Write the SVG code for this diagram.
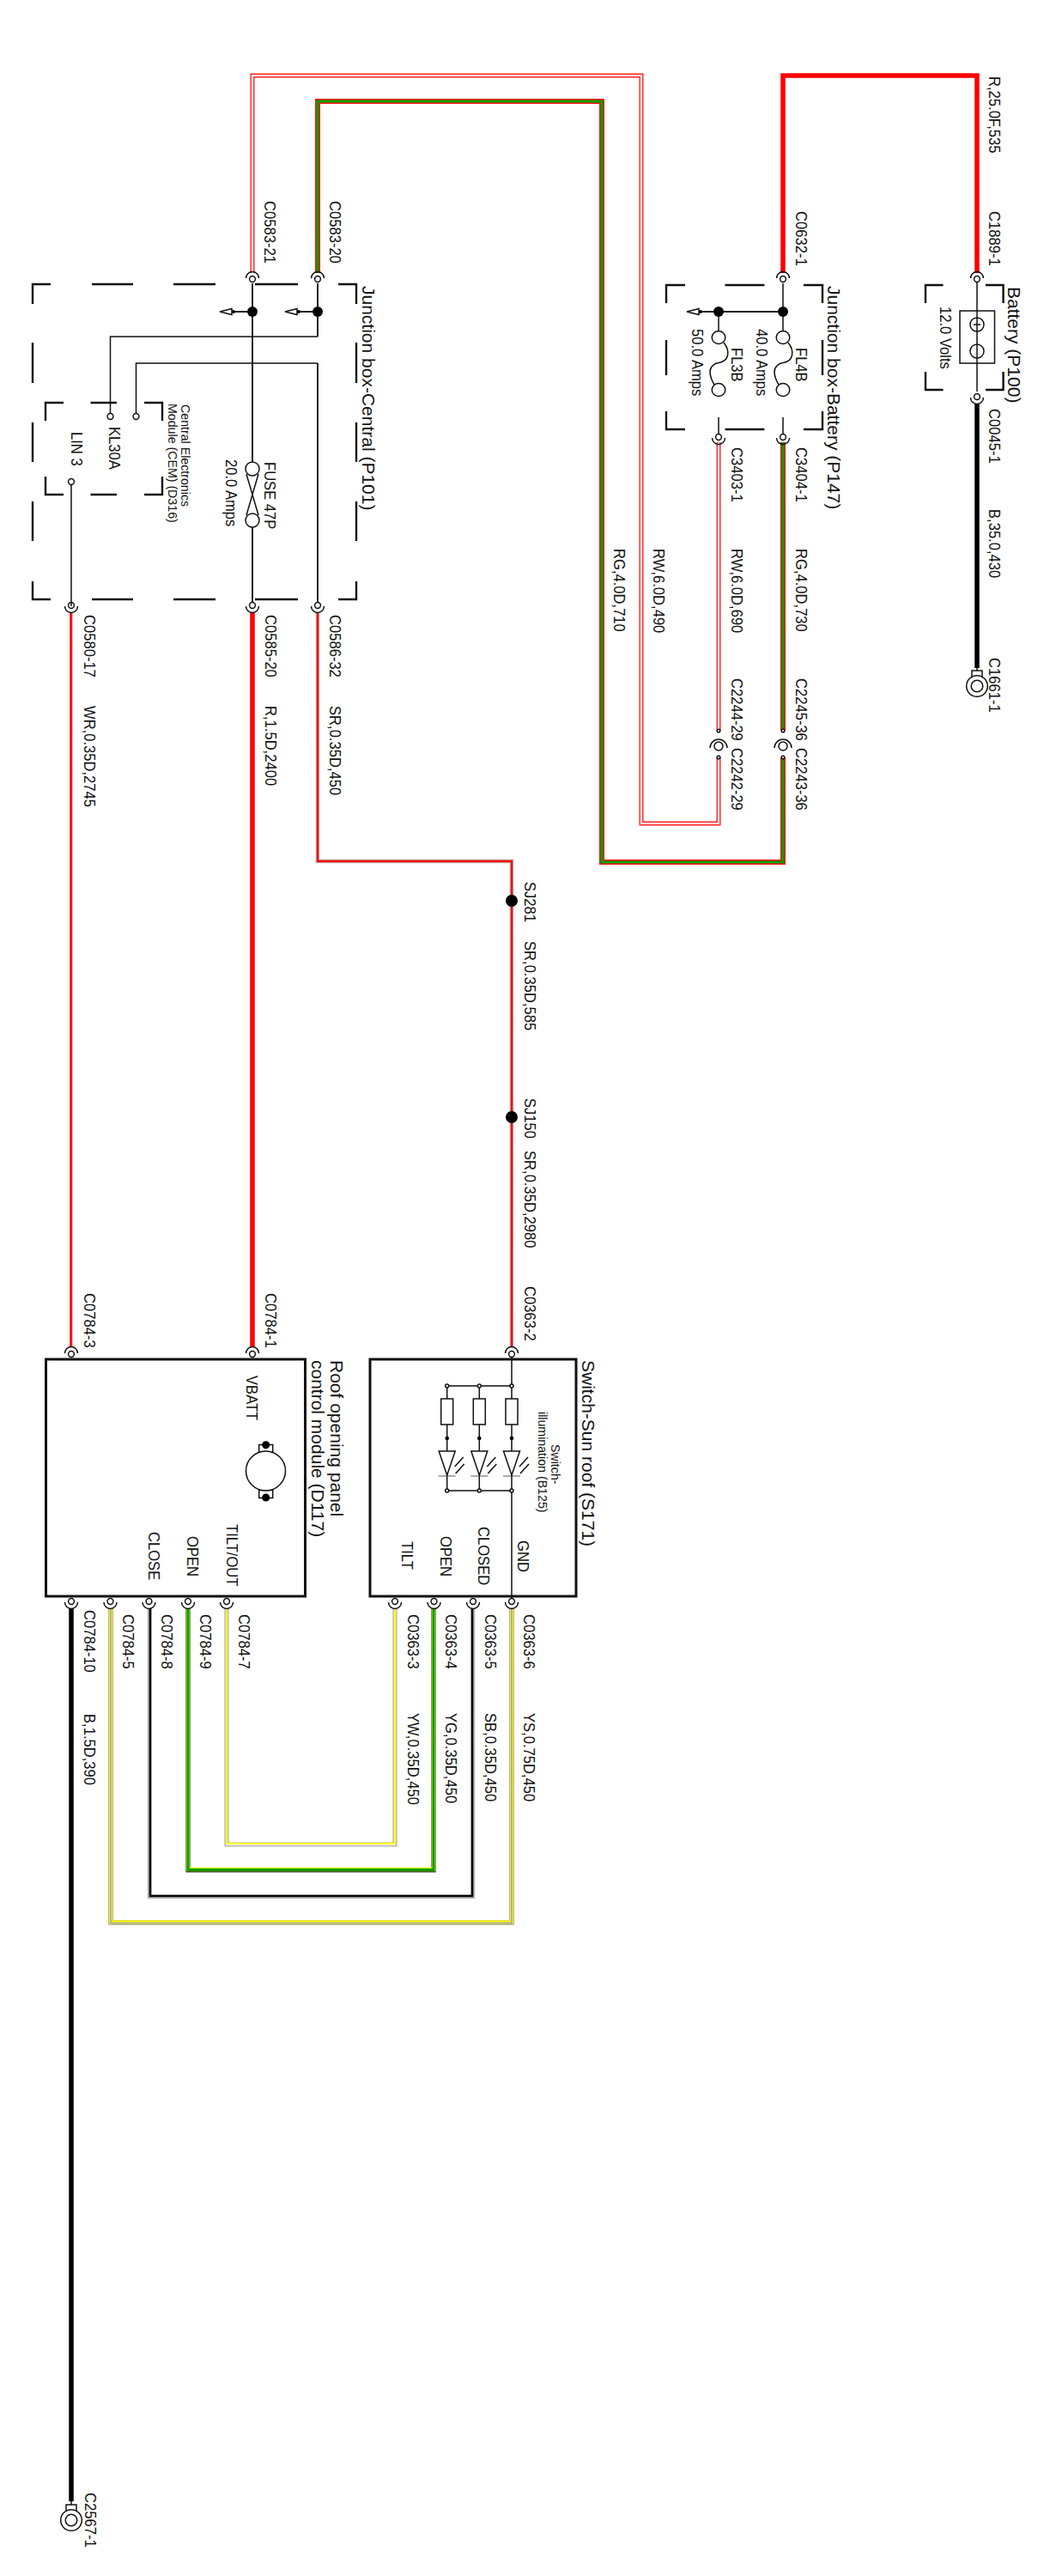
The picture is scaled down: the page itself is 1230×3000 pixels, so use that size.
<svg xmlns="http://www.w3.org/2000/svg" width="1230" height="3000" viewBox="0 0 1230 3000">
<style>
text{font-family:"Liberation Sans",Arial,sans-serif;font-size:16.6px;fill:#111}
.t{font-size:21px}
.s{font-size:14.2px}
.k{fill:none;stroke:#111;stroke-width:1.5}
.k2w{fill:none;stroke:#222;stroke-width:2}
.d{fill:none;stroke:#111;stroke-width:2.4}
.b{fill:none;stroke:#111;stroke-width:3}
.o{fill:#fff;stroke:#111;stroke-width:1.5}
.f{fill:#000;stroke:none}
.w{fill:none;stroke-linejoin:miter}
.r5{stroke:#f00;stroke-width:5.5}
.k5{stroke:#000;stroke-width:5.5}
.r4{stroke:#f22;stroke-width:5}
.r6{stroke:#f11;stroke-width:6}
.wh{stroke:#fff;stroke-width:2.2}
.g3{stroke:#00a000;stroke-width:3.2}
.gr4{stroke:#b5b5b5;stroke-width:4.5}
.r2{stroke:#f00;stroke-width:2.4}
.y4{stroke:#ff0;stroke-width:4.4}
.ol{stroke:#665;stroke-width:5.2}
.gr2{stroke:#b0b0a0;stroke-width:2.2}
.k2{stroke:#000;stroke-width:2.6}
.dg{stroke:#222;stroke-width:5.2}
.gp{stroke:#666;stroke-width:4.6}
.wy{stroke:#ff0;stroke-width:2.2}
.pk{stroke:#ff9a9a;stroke-width:3.6}
</style>
<defs>
<g id="ct"><path class="k" d="M-7.5 0A7.5 7.500 0 0 1 7.5 0"/><circle class="o" cx="0" cy="1" r="3.4"/></g>
<g id="cb"><path class="k" d="M-7.5 0A7.500 7.500 0 0 0 7.5 0"/><circle class="o" cx="0" cy="-1" r="3.4"/></g>
<g id="cm"><path class="k" d="M-10 2A10 10 0 0 1 10 2"/><circle class="o" cx="0" cy="0" r="5"/><circle class="o" cx="0" cy="-18" r="1.8"/><circle class="o" cx="0" cy="13" r="1.8"/></g>
<g id="gnd"><rect class="o" x="-6" y="-18" width="12" height="7"/><circle class="o" cx="0" cy="0" r="12.3"/><circle class="o" cx="0" cy="0" r="6.8"/></g>
<g id="arrow"><path class="o" d="M0 0L14 -3.600V3.600Z"/><circle class="f" cx="16" cy="0" r="2"/></g>
<g id="fusel"><ellipse class="o" cx="0" cy="-30" rx="7.800" ry="7.500"/><ellipse class="o" cx="0" cy="31" rx="7.800" ry="7.500"/><path class="k" d="M6 -24C10 -19 11.500 -13 10.500 -9C9 -3 4 -1 0 -0.500C-5 0 -10 4 -10 10C-10 15 -8 20 -5 25"/></g>
<g id="led"><rect class="o" x="-7" y="-107" width="14" height="30"/><circle class="f" cx="0" cy="-61" r="2.300"/><path class="o" d="M-9.500 -46H9.500L0 -18Z"/><path d="M-10 -17H10" fill="none" stroke="#333" stroke-width="0.800"/><path class="k" d="M9 -28L19 -39M10 -20L20 -31"/><circle class="o" cx="0" cy="-122" r="2"/><circle class="o" cx="0" cy="0" r="2"/></g>
</defs>

<g id="connectors">
<path class="w r4" d="M294 318V88H747V959H837V882"/><path class="w wh" d="M294 318V88H747V959H837V882"/>
<path class="w r4" d="M837 515V851"/><path class="w wh" d="M837 515V851"/>
<path class="w r6" d="M370 318V118H701V1004H912V882"/><path class="w g3" d="M370 318V118H701V1004H912V882"/>
<path class="w r6" d="M912 515V851"/><path class="w g3" d="M912 515V851"/>
<path class="w r5" d="M912 318V88H1138V318"/>
<path class="w k5" d="M1138 470V778"/>
<path class="w pk" d="M83 713V1568"/><path class="w r2" d="M82.600 713V1568"/>
<path class="w r5" d="M294 713V1568"/>
<path class="w gr4" d="M370 713V1003H596V1568"/><path class="w r2" d="M370 713V1003H596V1568"/>
<path class="w k5" d="M83 1873V2913"/>
<path class="w ol" d="M129 1873V2239H596V1873"/><path class="w y4" d="M129 1873V2238.600H596V1873"/><path class="w gr2" d="M129 1873V2239.500H596V1873"/>
<path class="w gr4" d="M174 1873V2209H551V1873"/><path class="w k2" d="M175 1873V2208H550V1873"/>
<path class="w dg" d="M219 1873V2178H505V1873"/><path class="w y4" d="M219 1873V2177H505V1873"/><path class="w g3" d="M219 1873V2177.500H505V1873"/>
<path class="w gp" d="M264 1873V2148H460V1873"/><path class="w" stroke="#fff" stroke-width="3.2" d="M264 1873V2148H460V1873"/><path class="w wy" d="M264 1873V2147H460V1873"/>
</g>

<g id="box-central">
<path class="d" d="M59 331H38V354M107 331H155M202 331H251M297 331H347M394 331H415V354M38 399V446M38 492V538M38 584V630M38 677V698H59M415 399V446M415 492V538M415 584V630M415 677V698H394M107 698H155M202 698H251M297 698H347"/>
<path class="k2w" d="M294 330V538M294 614V706M370 330V392M370 706V423"/>
<path class="k" d="M370 392H128.500V481M370 423H158.500V481"/>
<path class="k2w" d="M272 363H294M350 363H370"/>
<circle class="f" cx="294" cy="363" r="6"/><circle class="f" cx="370" cy="363" r="6"/>
<use href="#arrow" x="256" y="363"/><use href="#arrow" x="332" y="363"/>
<g id="fuse-47p"><circle class="o" cx="294" cy="546" r="8"/><circle class="o" cx="294" cy="606" r="8"/><path class="k" d="M287 552L301 600M301 552L287 600"/></g>
<use href="#ct" x="294" y="324"/><use href="#ct" x="370" y="324"/>
<use href="#cb" x="83" y="706"/><use href="#cb" x="294" y="706"/><use href="#cb" x="370" y="706"/>
<text class="t" transform="translate(422 333) rotate(90)">Junction box-Central (P101)</text>
<text transform="translate(308 538) rotate(90) scale(1 1.120)">FUSE 47P</text>
<text transform="translate(263 535) rotate(90) scale(1 1.120)">20.0 Amps</text>
</g>

<g id="cem">
<path class="d" d="M74 469H53V490M105.500 469H136M168 469H189V490M53 555V576H74M105.500 576H136M168 576H189V555"/>
<path class="k" d="M83 565V706"/>
<circle class="o" cx="128.500" cy="485" r="3.400"/><circle class="o" cx="158.500" cy="485" r="3.400"/><circle class="o" cx="83" cy="561" r="3.400"/>
<text transform="translate(127 497) rotate(90) scale(1 1.120)">KL30A</text>
<text transform="translate(83 503) rotate(90) scale(1 1.120)">LIN 3</text>
<text class="s" transform="translate(211 471) rotate(90)">Central Electronics</text>
<text class="s" transform="translate(196 470) rotate(90)">Module (CEM) (D316)</text>
</g>

<g id="box-battery">
<path class="d" d="M798 332H776V353M844.500 332H890.400M936 332H958V353M776 396V437M776 479V500H798M844.500 500H890.400M936 500H958V479M958 396V437"/>
<path class="k" d="M912 330V362M912 486V506M837 486V506"/>
<path class="k2w" d="M816 363H912"/><path class="k" d="M912 363V386M837 363V386"/>
<circle class="f" cx="912" cy="363" r="6"/><circle class="f" cx="837" cy="363" r="6"/>
<use href="#arrow" x="800" y="363"/>
<use href="#fusel" x="912" y="423"/><use href="#fusel" x="837" y="423"/>
<use href="#ct" x="912" y="324"/>
<use href="#cb" x="912" y="510"/><use href="#cb" x="837" y="510"/>
<text class="t" transform="translate(964 333) rotate(90)">Junction box-Battery (P147)</text>
<text transform="translate(927 405) rotate(90) scale(1 1.120)">FL4B</text>
<text transform="translate(852 405) rotate(90) scale(1 1.120)">FL3B</text>
<text transform="translate(881 383) rotate(90) scale(1 1.120)">40.0 Amps</text>
<text transform="translate(806 383) rotate(90) scale(1 1.120)">50.0 Amps</text>
</g>

<g id="battery">
<path class="d" d="M1098.600 332H1078V353M1148 332H1168.600V353M1078 433V454H1098.600M1168.600 433V454H1148"/>
<rect class="k" x="1118" y="362" width="40.500" height="61"/>
<circle class="k" cx="1138" cy="378" r="8"/><path class="k" d="M1134 378H1142"/>
<circle class="k" cx="1138" cy="409" r="8"/>
<path class="k" d="M1138 326V456"/>
<use href="#ct" x="1138" y="324"/><use href="#cb" x="1138" y="463"/>
<text class="t" transform="translate(1174 334) rotate(90)">Battery (P100)</text>
<text transform="translate(1095 357) rotate(90) scale(1 1.120)">12.0 Volts</text>
</g>

<g id="ground-c1661"><path class="k" d="M1138 778V781"/><use href="#gnd" x="1138" y="799"/></g>
<g id="inline-c2244"><use href="#cm" x="837" y="869"/></g>
<g id="inline-c2245"><use href="#cm" x="912" y="869"/></g>
<g id="splice-sj281"><circle class="f" cx="596" cy="1049" r="7"/></g>
<g id="splice-sj150"><circle class="f" cx="596" cy="1301" r="7"/></g>

<g id="roof-module">
<rect class="b" x="53.500" y="1583" width="302" height="276"/>
<rect class="k" x="301.700" y="1682.500" width="16" height="9"/><rect class="k" x="301.700" y="1735.500" width="16" height="9"/>
<circle class="o" cx="309.500" cy="1713" r="23"/>
<circle class="f" cx="309.700" cy="1682.700" r="4.500"/><circle class="f" cx="309.700" cy="1744" r="4.500"/>
<use href="#ct" x="83" y="1576"/><use href="#ct" x="294" y="1576"/>
<use href="#cb" x="83" y="1866"/><use href="#cb" x="128.500" y="1866"/><use href="#cb" x="173.500" y="1866"/><use href="#cb" x="219" y="1866"/><use href="#cb" x="264" y="1866"/>
<text class="t" transform="translate(385 1584) rotate(90)">Roof opening panel</text>
<text class="t" transform="translate(363 1584) rotate(90)">control module (D117)</text>
<text transform="translate(287 1602) rotate(90) scale(1 1.120)">VBATT</text>
<text transform="translate(264 1775) rotate(90) scale(1 1.120)">TILT/OUT</text>
<text transform="translate(218 1789) rotate(90) scale(1 1.120)">OPEN</text>
<text transform="translate(173 1784) rotate(90) scale(1 1.120)">CLOSE</text>
</g>

<g id="switch-sunroof">
<rect class="b" x="431" y="1583" width="240" height="276"/>
<path class="k" d="M596 1576V1866M520.700 1614H596M520.700 1736H596M520.700 1614V1736M558.300 1614V1736"/>
<use href="#led" x="520.700" y="1736"/><use href="#led" x="558.300" y="1736"/><use href="#led" x="596" y="1736"/>
<use href="#ct" x="596" y="1576"/>
<use href="#cb" x="460" y="1866"/><use href="#cb" x="505.500" y="1866"/><use href="#cb" x="551" y="1866"/><use href="#cb" x="596" y="1866"/>
<text class="t" transform="translate(678 1584) rotate(90)">Switch-Sun roof (S171)</text>
<text class="s" transform="translate(642 1682) rotate(90)">Switch-</text>
<text class="s" transform="translate(627 1644) rotate(90)">illumination (B125)</text>
<text transform="translate(468 1795) rotate(90) scale(1 1.120)">TILT</text>
<text transform="translate(513 1789) rotate(90) scale(1 1.120)">OPEN</text>
<text transform="translate(557 1778) rotate(90) scale(1 1.120)">CLOSED</text>
<text transform="translate(603 1794) rotate(90) scale(1 1.120)">GND</text>
</g>

<g id="ground-c2567"><path class="k" d="M83 2913V2917"/><use href="#gnd" x="83" y="2935"/></g>

<g id="labels">
<text transform="translate(308 234) rotate(90) scale(1 1.120)">C0583-21</text>
<text transform="translate(384 234) rotate(90) scale(1 1.120)">C0583-20</text>
<text transform="translate(927 246) rotate(90) scale(1 1.120)">C0632-1</text>
<text transform="translate(1152 246) rotate(90) scale(1 1.120)">C1889-1</text>
<text transform="translate(1152 89) rotate(90) scale(1 1.120)">R,25.0F,535</text>
<text transform="translate(1152 476) rotate(90) scale(1 1.120)">C0045-1</text>
<text transform="translate(1152 593) rotate(90) scale(1 1.120)">B,35.0,430</text>
<text transform="translate(1152 766) rotate(90) scale(1 1.120)">C1661-1</text>
<text transform="translate(852 521) rotate(90) scale(1 1.120)">C3403-1</text>
<text transform="translate(927 521) rotate(90) scale(1 1.120)">C3404-1</text>
<text transform="translate(852 639) rotate(90) scale(1 1.120)">RW,6.0D,690</text>
<text transform="translate(927 639) rotate(90) scale(1 1.120)">RG,4.0D,730</text>
<text transform="translate(761 639) rotate(90) scale(1 1.120)">RW,6.0D,490</text>
<text transform="translate(715 639) rotate(90) scale(1 1.120)">RG,4.0D,710</text>
<text transform="translate(852 790) rotate(90) scale(1 1.120)">C2244-29</text>
<text transform="translate(852 871) rotate(90) scale(1 1.120)">C2242-29</text>
<text transform="translate(927 790) rotate(90) scale(1 1.120)">C2245-36</text>
<text transform="translate(927 871) rotate(90) scale(1 1.120)">C2243-36</text>
<text transform="translate(98 716) rotate(90) scale(1 1.120)">C0580-17</text>
<text transform="translate(309 716) rotate(90) scale(1 1.120)">C0585-20</text>
<text transform="translate(384 716) rotate(90) scale(1 1.120)">C0586-32</text>
<text transform="translate(98 822) rotate(90) scale(1 1.120)">WR,0.35D,2745</text>
<text transform="translate(309 822) rotate(90) scale(1 1.120)">R,1.5D,2400</text>
<text transform="translate(384 822) rotate(90) scale(1 1.120)">SR,0.35D,450</text>
<text transform="translate(611 1027) rotate(90) scale(1 1.120)">SJ281</text>
<text transform="translate(611 1096) rotate(90) scale(1 1.120)">SR,0.35D,585</text>
<text transform="translate(611 1279) rotate(90) scale(1 1.120)">SJ150</text>
<text transform="translate(611 1340) rotate(90) scale(1 1.120)">SR,0.35D,2980</text>
<text transform="translate(611 1498) rotate(90) scale(1 1.120)">C0363-2</text>
<text transform="translate(98 1506) rotate(90) scale(1 1.120)">C0784-3</text>
<text transform="translate(309 1506) rotate(90) scale(1 1.120)">C0784-1</text>
<text transform="translate(98 1875) rotate(90) scale(1 1.120)">C0784-10</text>
<text transform="translate(143 1880) rotate(90) scale(1 1.120)">C0784-5</text>
<text transform="translate(188 1880) rotate(90) scale(1 1.120)">C0784-8</text>
<text transform="translate(233 1880) rotate(90) scale(1 1.120)">C0784-9</text>
<text transform="translate(278 1880) rotate(90) scale(1 1.120)">C0784-7</text>
<text transform="translate(475 1880) rotate(90) scale(1 1.120)">C0363-3</text>
<text transform="translate(519 1880) rotate(90) scale(1 1.120)">C0363-4</text>
<text transform="translate(565 1880) rotate(90) scale(1 1.120)">C0363-5</text>
<text transform="translate(610 1880) rotate(90) scale(1 1.120)">C0363-6</text>
<text transform="translate(98 1996) rotate(90) scale(1 1.120)">B,1.5D,390</text>
<text transform="translate(475 1995) rotate(90) scale(1 1.120)">YW,0.35D,450</text>
<text transform="translate(519 1995) rotate(90) scale(1 1.120)">YG,0.35D,450</text>
<text transform="translate(565 1995) rotate(90) scale(1 1.120)">SB,0.35D,450</text>
<text transform="translate(610 1995) rotate(90) scale(1 1.120)">YS,0.75D,450</text>
<text transform="translate(99 2903) rotate(90) scale(1 1.120)">C2567-1</text>
</g>
</svg>
